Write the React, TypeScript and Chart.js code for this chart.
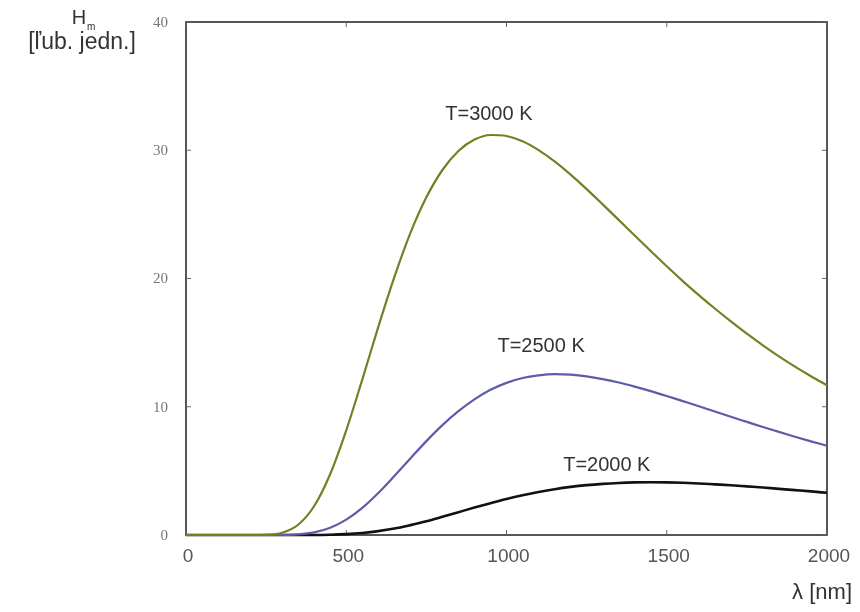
import React, { useEffect, useRef } from "react";
import { Chart, registerables } from "chart.js";

Chart.register(...registerables);

const wavelengths = [0, 50, 100, 150, 200, 250, 300, 350, 400, 450, 500, 550, 600, 650, 700, 750, 800, 850, 900, 950, 1000, 1050, 1100, 1150, 1200, 1250, 1300, 1350, 1400, 1450, 1500, 1550, 1600, 1650, 1700, 1750, 1800, 1850, 1900, 1950, 2000];

const t3000 = [0, 0, 0, 0, 0, 0.02, 0.18, 0.8, 2.26, 4.76, 8.16, 12.12, 16.23, 20.11, 23.54, 26.33, 28.46, 29.94, 30.83, 31.19, 31.11, 30.7, 30.01, 29.13, 28.1, 26.97, 25.78, 24.57, 23.35, 22.14, 20.95, 19.8, 18.71, 17.66, 16.66, 15.7, 14.79, 13.93, 13.13, 12.38, 11.67];

const t2500 = [0, 0, 0, 0, 0, 0, 0, 0.05, 0.21, 0.57, 1.2, 2.12, 3.28, 4.6, 5.97, 7.32, 8.57, 9.66, 10.58, 11.32, 11.86, 12.24, 12.45, 12.54, 12.5, 12.37, 12.16, 11.89, 11.57, 11.22, 10.84, 10.44, 10.04, 9.63, 9.22, 8.82, 8.42, 8.04, 7.66, 7.3, 6.96];

const t2000 = [0, 0, 0, 0, 0, 0, 0, 0, 0, 0.02, 0.07, 0.16, 0.3, 0.5, 0.77, 1.07, 1.42, 1.78, 2.14, 2.48, 2.81, 3.1, 3.35, 3.57, 3.75, 3.89, 3.99, 4.06, 4.1, 4.11, 4.1, 4.07, 4.02, 3.95, 3.88, 3.79, 3.7, 3.6, 3.5, 3.4, 3.29];

const seriesNames = ["T=3000 K", "T=2500 K", "T=2000 K"];
const seriesColors = ["#767f25", "#5c5caa", "#111111"];
// label anchor positions (data units): [wavelength, value]
const labelAnchors = [
  [945, 32.8],
  [1108, 14.7],
  [1313, 5.4],
];

const xTicks = [0, 500, 1000, 1500, 2000];
const xTickLabels = ["0", "500", "1000", "1500", "2000"];
const yTicks = [0, 10, 20, 30, 40];
const yTickLabels = ["0", "10", "20", "30", "40"];

const SANS = "'Liberation Sans', Arial, sans-serif";
const SERIF = "'Liberation Serif', 'Times New Roman', serif";

const framePlugin = {
  id: "frame",
  beforeDatasetsDraw(chart: any) {
    const { ctx, chartArea: a, scales } = chart;
    ctx.save();
    ctx.strokeStyle = "#444";
    ctx.lineWidth = 1.8;
    ctx.strokeRect(a.left, a.top, a.right - a.left, a.bottom - a.top);
    ctx.lineWidth = 1;
    ctx.strokeStyle = "#666";
    const tl = 5;
    ctx.beginPath();
    xTicks.forEach((v) => {
      const px = scales.x.getPixelForValue(v);
      ctx.moveTo(px, a.bottom);
      ctx.lineTo(px, a.bottom - tl);
      ctx.moveTo(px, a.top);
      ctx.lineTo(px, a.top + tl);
    });
    yTicks.forEach((v) => {
      const py = scales.y.getPixelForValue(v);
      ctx.moveTo(a.left, py);
      ctx.lineTo(a.left + tl, py);
      ctx.moveTo(a.right, py);
      ctx.lineTo(a.right - tl, py);
    });
    ctx.stroke();
    ctx.restore();
  },
  afterDraw(chart: any) {
    const { ctx, chartArea: a, scales } = chart;
    ctx.save();
    ctx.textBaseline = "middle";
    // tick labels
    ctx.fillStyle = "#555";
    ctx.textAlign = "center";
    ctx.font = `19px ${SANS}`;
    xTicks.forEach((v, i) => {
      ctx.fillText(xTickLabels[i], scales.x.getPixelForValue(v) + 2, a.bottom + 22);
    });
    ctx.fillStyle = "#777";
    ctx.textAlign = "right";
    ctx.font = `15px ${SERIF}`;
    yTicks.forEach((v, i) => {
      ctx.fillText(yTickLabels[i], a.left - 18, scales.y.getPixelForValue(v) + 1);
    });
    // curve labels
    ctx.fillStyle = "#333";
    ctx.textAlign = "center";
    ctx.font = `20px ${SANS}`;
    labelAnchors.forEach((p, i) => {
      ctx.fillText(seriesNames[i], scales.x.getPixelForValue(p[0]), scales.y.getPixelForValue(p[1]));
    });
    // y-axis title
    ctx.fillStyle = "#333";
    ctx.font = `20px ${SANS}`;
    ctx.fillText("H", a.left - 107, a.top - 4);
    ctx.font = `10px ${SANS}`;
    ctx.textAlign = "left";
    ctx.fillText("m", a.left - 99, a.top + 5);
    ctx.textAlign = "center";
    ctx.font = `23px ${SANS}`;
    ctx.fillText("[ľub. jedn.]", a.left - 104, a.top + 21);
    // x-axis title
    ctx.textAlign = "right";
    ctx.font = `22px ${SANS}`;
    ctx.fillText("λ [nm]", a.right + 25, a.bottom + 58);
    ctx.restore();
  },
};

export default function App() {
  const ref = useRef<HTMLCanvasElement>(null);
  useEffect(() => {
    if (!ref.current) return;
    const mk = (vals: number[]) => wavelengths.map((x, i) => ({ x, y: vals[i] }));
    const chart = new Chart(ref.current, {
      type: "line",
      data: {
        datasets: [t3000, t2500, t2000].map((vals, i) => ({
          label: seriesNames[i],
          data: mk(vals),
          borderColor: seriesColors[i],
          borderWidth: i === 2 ? 2.6 : 2.2,
          pointRadius: 0,
          fill: false,
          cubicInterpolationMode: "monotone" as const,
          clip: false as any,
        })),
      },
      options: {
        responsive: false,
        animation: false,
        layout: { padding: { left: 0, right: 33, top: 22, bottom: 0 } },
        plugins: { legend: { display: false }, tooltip: { enabled: false } },
        scales: {
          x: {
            type: "linear",
            min: 0,
            max: 2000,
            afterBuildTicks: (s: any) => {
              s.ticks = xTicks.map((v) => ({ value: v }));
            },
            afterFit: (s: any) => {
              s.height = 77;
            },
            grid: { display: false },
            border: { display: false },
            ticks: { display: false },
          },
          y: {
            type: "linear",
            min: 0,
            max: 40,
            afterBuildTicks: (s: any) => {
              s.ticks = yTicks.map((v) => ({ value: v }));
            },
            afterFit: (s: any) => {
              s.width = 186;
            },
            grid: { display: false },
            border: { display: false },
            ticks: { display: false },
          },
        },
      },
      plugins: [framePlugin],
    });
    return () => chart.destroy();
  }, []);
  return (
    <canvas
      ref={ref}
      width={860}
      height={612}
      style={{ position: "absolute", left: 0, top: 0, width: 860, height: 612, background: "#fff" }}
    />
  );
}
